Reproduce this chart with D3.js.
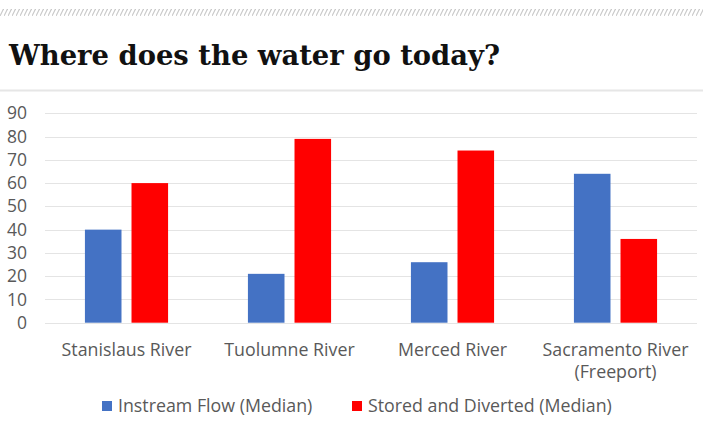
<!DOCTYPE html>
<html><head><meta charset="utf-8">
<script src="https://cdn.jsdelivr.net/npm/d3@7"></script>
<style>body{margin:0;background:#fff;} svg{display:block;}</style>
</head><body>
<svg id="c" width="703" height="423"></svg>
<script>
const categories = ["Stanislaus River", "Tuolumne River", "Merced River", "Sacramento River\n(Freeport)"];
const seriesNames = ["Instream Flow (Median)", "Stored and Diverted (Median)"];
const instreamFlow = [40, 21, 26, 64];
const storedDiverted = [60, 79, 74, 36];
const yTicks = [0, 10, 20, 30, 40, 50, 60, 70, 80, 90];
const colors = ["#4472C4", "#FF0000"];

const svg = d3.select("#c");
const W = 703, H = 423;
const m = {left: 45, right: 6, top: 113.3, bottom: 100.3};
const x = d3.scaleBand().domain(categories).range([m.left, W - m.right]).paddingInner(0).paddingOuter(0);
const y = d3.scaleLinear().domain([0, 90]).range([H - m.bottom, m.top]);
const x1 = d3.scaleBand().domain([0, 1]).range([0, x.bandwidth()]).paddingInner(0.215).paddingOuter(0.857);

// top hatch strip
const defs = svg.append("defs");
const pat = defs.append("pattern").attr("id", "hatch").attr("patternUnits", "userSpaceOnUse")
  .attr("width", 4).attr("height", 8);
pat.append("line").attr("x1", 0).attr("y1", 8).attr("x2", 4).attr("y2", 0)
  .attr("stroke", "#c8c8c8").attr("stroke-width", 1.2);
svg.append("rect").attr("x", 0).attr("y", 9).attr("width", W).attr("height", 7).attr("fill", "url(#hatch)");

// title
const title = svg.append("text").attr("x", 9).attr("y", 65)
  .attr("font-family", "DejaVu Serif, serif").attr("font-weight", "bold")
  .attr("font-size", 27).attr("fill", "#111").text("Where does the water go today?");
title.attr("textLength", 491).attr("lengthAdjust", "spacingAndGlyphs");

svg.append("line").attr("x1", 0).attr("x2", W).attr("y1", 90.5).attr("y2", 90.5)
  .attr("stroke", "#e6e6e6").attr("stroke-width", 2);

// grid
svg.append("g").selectAll("line").data(yTicks).join("line")
  .attr("x1", m.left).attr("x2", W - m.right)
  .attr("y1", d => Math.round(y(d)) + 0.5).attr("y2", d => Math.round(y(d)) + 0.5)
  .attr("stroke", "#e4e4e4").attr("stroke-width", 1);

const font = "'Open Sans', Lato, sans-serif";
// y axis labels
const yAxis = d3.axisLeft(y).tickValues(yTicks).tickSize(0).tickPadding(0);
const ga = svg.append("g").attr("transform", `translate(27,0)`).call(yAxis);
ga.select(".domain").remove();
ga.selectAll("text").attr("font-family", font).attr("font-size", 17.5).attr("fill", "#595959");

// bars
const data = categories.map((c, i) => ({c, vals: [instreamFlow[i], storedDiverted[i]]}));
const g = svg.append("g").selectAll("g").data(data).join("g")
  .attr("transform", d => `translate(${x(d.c)},0)`);
g.selectAll("rect").data(d => d.vals.map((v, k) => ({v, k}))).join("rect")
  .attr("x", d => x1(d.k)).attr("width", x1.bandwidth())
  .attr("y", d => y(d.v)).attr("height", d => y(0) - y(d.v))
  .attr("fill", d => colors[d.k]);

// category labels
const cl = svg.append("g").selectAll("text").data(categories).join("text")
  .attr("x", d => x(d) + x.bandwidth() / 2).attr("y", 356)
  .attr("text-anchor", "middle").attr("font-family", font)
  .attr("font-size", 17.8).attr("fill", "#595959");
cl.each(function(d) {
  const lines = d.split("\n");
  d3.select(this).selectAll("tspan").data(lines).join("tspan")
    .attr("x", x(d) + x.bandwidth() / 2).attr("dy", (l, i) => i ? 22 : 0).text(l => l);
});

// legend
const legendX = [102, 352];
const lg = svg.append("g").selectAll("g").data(seriesNames).join("g")
  .attr("transform", (d, i) => `translate(${legendX[i]},0)`);
lg.append("rect").attr("x", 0).attr("y", 401).attr("width", 10).attr("height", 10).attr("fill", (d, i) => colors[i]);
lg.append("text").attr("x", 16).attr("y", 412).attr("font-family", font)
  .attr("font-size", 17.8).attr("fill", "#595959").text(d => d);
</script>
</body></html>
